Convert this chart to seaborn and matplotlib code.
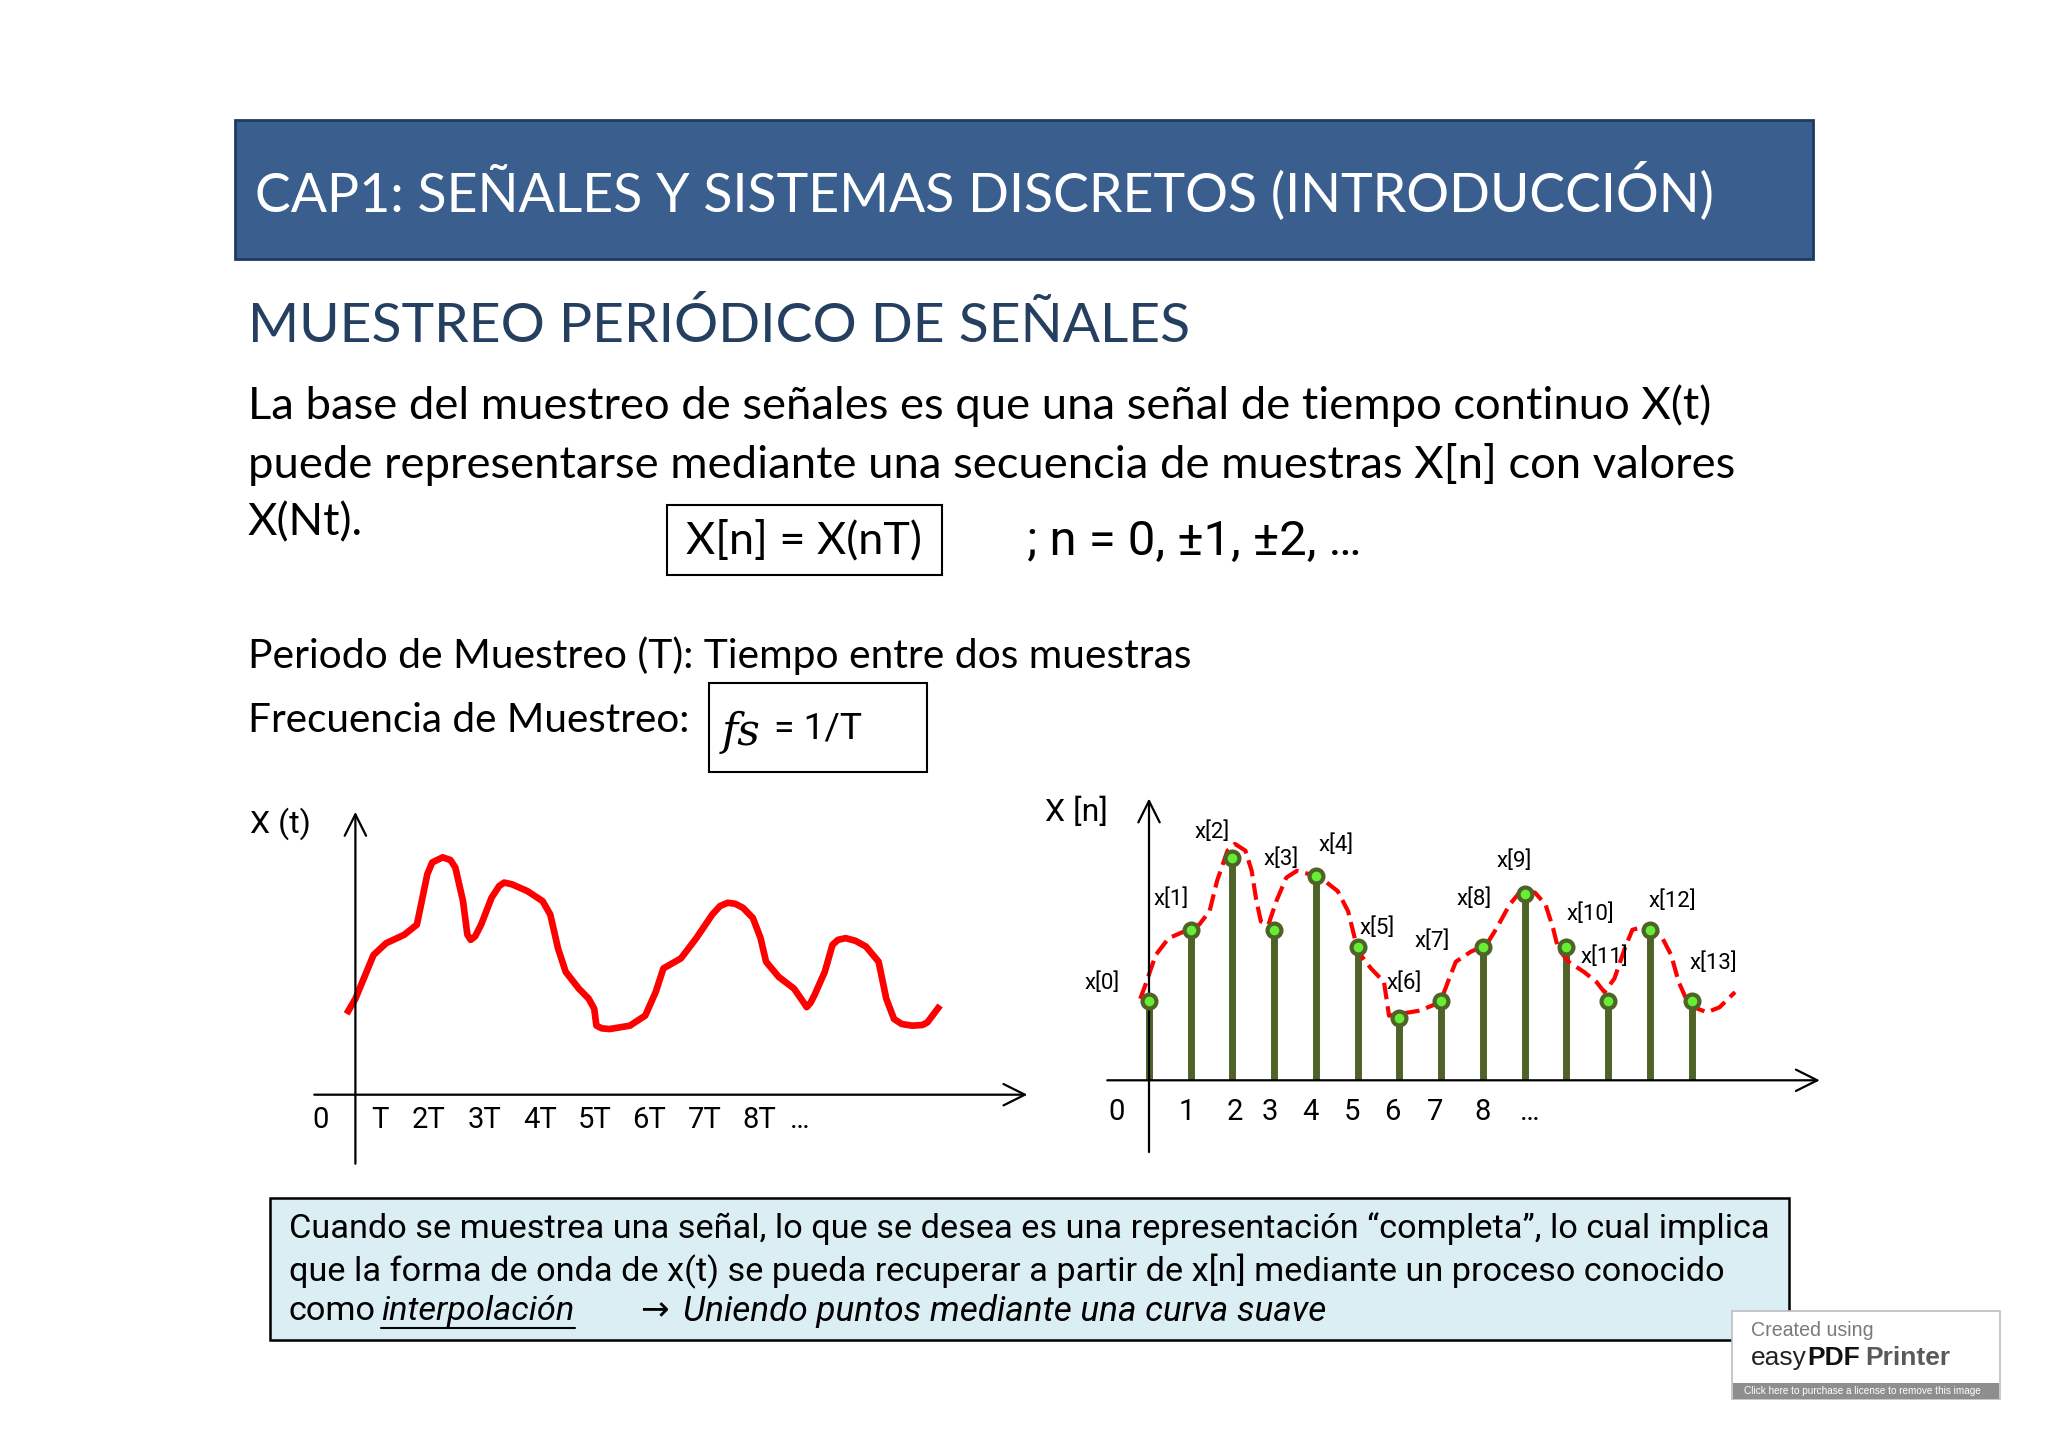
import matplotlib
matplotlib.use("Agg")
import matplotlib.pyplot as plt
from matplotlib.patches import Rectangle
import seaborn as sns

# ---- data ---------------------------------------------------------------
# continuous signal X(t), t measured in units of the tick spacing
t_cont = [-0.16, 0.0, 0.33, 0.56, 0.89, 1.12, 1.31, 1.40, 1.59, 1.73, 1.82, 1.96,
          2.04, 2.10, 2.18, 2.29, 2.48, 2.62, 2.71, 2.85, 3.13, 3.41, 3.55, 3.69,
          3.83, 4.07, 4.25, 4.35, 4.39, 4.49, 4.63, 5.00, 5.28, 5.47, 5.61, 5.93,
          6.21, 6.50, 6.64, 6.78, 6.92, 7.06, 7.24, 7.38, 7.48, 7.71, 7.99, 8.16,
          8.22, 8.29, 8.36, 8.55, 8.69, 8.79, 8.93, 9.11, 9.30, 9.53, 9.67, 9.81,
          9.95, 10.14, 10.33, 10.42, 10.65]
x_cont = [2.40, 2.85, 4.15, 4.50, 4.75, 5.05, 6.55, 6.90, 7.05, 6.97, 6.75, 5.75,
          4.75, 4.60, 4.70, 5.05, 5.85, 6.20, 6.30, 6.25, 6.05, 5.75, 5.35, 4.35,
          3.65, 3.15, 2.85, 2.55, 2.05, 1.97, 1.95, 2.05, 2.35, 3.05, 3.75, 4.05,
          4.65, 5.35, 5.60, 5.70, 5.67, 5.55, 5.25, 4.65, 3.95, 3.50, 3.15, 2.75,
          2.60, 2.73, 2.95, 3.65, 4.45, 4.60, 4.65, 4.57, 4.40, 3.95, 2.85, 2.25,
          2.10, 2.05, 2.07, 2.15, 2.65]
t_tick_labels = ["0", "T", "2T", "3T", "4T", "5T", "6T", "7T", "8T", "…"]
t_tick_pos = [-0.63, 0.44, 1.34, 2.36, 3.36, 4.35, 5.35, 6.36, 7.36, 8.10]

# discrete samples x[n]
n_samples = list(range(14))
x_samples = [2.37, 4.45, 6.60, 4.47, 6.07, 3.95, 1.85, 2.37, 3.95, 5.54, 3.97,
             2.37, 4.47, 2.37]
sample_names = ["x[%d]" % k for k in n_samples]

# dashed interpolating curve through the samples
n_interp = [-0.21, -0.09, 0.16, 0.47, 0.84, 1.20, 1.45, 1.63, 1.88, 2.06, 2.31,
            2.46, 2.56, 2.68, 2.86, 3.05, 3.29, 3.54, 3.85, 4.21, 4.52, 4.77,
            4.89, 5.01, 5.32, 5.63, 5.69, 5.75, 6.00, 6.49, 6.98, 7.16, 7.35,
            7.71, 8.08, 8.33, 8.64, 8.94, 9.25, 9.50, 9.68, 9.80, 10.05, 10.42,
            10.72, 10.91, 11.15, 11.40, 11.58, 11.89, 12.26, 12.51, 12.69, 12.94,
            13.37, 13.67, 14.04]
x_interp = [2.42, 2.82, 3.72, 4.22, 4.42, 4.62, 5.02, 5.92, 6.82, 7.02, 6.82,
            6.22, 5.42, 4.72, 4.62, 5.32, 6.02, 6.22, 6.12, 5.92, 5.62, 5.02,
            4.42, 3.82, 3.32, 2.92, 2.42, 1.92, 1.97, 2.07, 2.32, 2.92, 3.52,
            3.82, 4.02, 4.52, 5.22, 5.67, 5.57, 5.22, 4.52, 3.92, 3.52, 3.22,
            2.92, 2.62, 3.02, 3.92, 4.47, 4.57, 4.32, 3.72, 2.92, 2.22, 2.02,
            2.17, 2.62]
n_tick_labels = ["0", "1", "2", "3", "4", "5", "6", "7", "8", "…"]
n_tick_pos = [-0.78, 0.90, 2.06, 2.89, 3.87, 4.86, 5.84, 6.86, 8.00, 9.13]

# label offsets (layout only) for the x[k] annotations
name_dx = [-1.13, -0.47, -0.49, 0.17, 0.48, 0.47, 0.12, -0.21, -0.22, -0.24,
           0.57, -0.09, 0.54, 0.53]
name_dy = [0.50, 0.92, 0.77, 2.10, 0.90, 0.57, 1.02, 1.75, 1.42, 0.98, 0.95,
           1.30, 0.85, 1.10]

# ---- styling ------------------------------------------------------------
sns.set_theme(style="white")
SLIDE = ["Lato", "Liberation Sans", "DejaVu Sans"]
ARIAL = ["Roboto", "Liberation Sans", "DejaVu Sans"]
plt.rcParams["font.family"] = ARIAL

W, H = 2048, 1448
RED = "#FF0000"
OLIVE = "#4F6228"
LIME = "#66EE33"

fig = plt.figure(figsize=(W / 100, H / 100), dpi=100)
fig.patch.set_facecolor("white")
renderer = fig.canvas.get_renderer()


def px_rect(x0, y0, x1, y1, **kw):
    r = Rectangle((x0 / W, 1 - y1 / H), (x1 - x0) / W, (y1 - y0) / H,
                  transform=fig.transFigure, **kw)
    fig.patches.append(r)
    return r


def px_text(x, y, s, width=None, **kw):
    kw.setdefault("va", "center")
    kw.setdefault("ha", "left")
    txt = fig.text(x / W, 1 - y / H, s, **kw)
    if width is not None:
        w = txt.get_window_extent(renderer).width
        txt.set_fontsize(txt.get_fontsize() * width / w)
    return txt


def place_axes(x0, y0, sx, sy, xlim, ylim):
    left = x0 + sx * xlim[0]
    right = x0 + sx * xlim[1]
    top = y0 - sy * ylim[1]
    bottom = y0 - sy * ylim[0]
    ax = fig.add_axes([left / W, 1 - bottom / H, (right - left) / W, (bottom - top) / H])
    ax.set_xlim(*xlim)
    ax.set_ylim(*ylim)
    ax.axis("off")
    return ax


def arrow(ax, start, end):
    ax.annotate("", xy=end, xytext=start,
                arrowprops=dict(arrowstyle="->,head_length=0.7,head_width=0.35",
                                lw=1.6, color="black", mutation_scale=22,
                                shrinkA=0, shrinkB=0))


# ---- header -------------------------------------------------------------
px_rect(235, 120, 1813, 259, facecolor="#3A5F8F", edgecolor="#1E3A62", lw=2)
px_text(255, 191, "CAP1: SEÑALES Y SISTEMAS DISCRETOS (INTRODUCCIÓN)",
        width=1460, color="white", fontsize=40, family=SLIDE)
px_text(248, 326, "MUESTREO PERIÓDICO DE SEÑALES", width=944,
        color="#243F60", fontsize=40, family=SLIDE)

body = px_text(248, 406, "La base del muestreo de señales es que una señal de tiempo continuo X(t)",
               width=1460, color="black", fontsize=24, family=SLIDE)
fs_body = body.get_fontsize()
px_text(248, 465, "puede representarse mediante una secuencia de muestras X[n] con valores",
        color="black", fontsize=fs_body, family=SLIDE)
px_text(248, 523, "X(Nt).", color="black", fontsize=fs_body, family=SLIDE)

px_rect(667, 505, 942, 575, facecolor="none", edgecolor="black", lw=1.5)
px_text(804, 541, "X[n] = X(nT)", width=236, ha="center", color="black", fontsize=24,
        family=SLIDE)
px_text(1027, 542, "; n = 0, ±1, ±2, …", width=335, color="black", fontsize=24)

px_text(248, 656, "Periodo de Muestreo (T): Tiempo entre dos muestras", width=942,
        color="black", fontsize=22, family=SLIDE)
px_text(248, 720, "Frecuencia de Muestreo:", width=440, color="black", fontsize=22,
        family=SLIDE)
px_rect(709, 683, 927, 772, facecolor="none", edgecolor="black", lw=1.5)
px_text(722, 732, "fs", width=39, color="black", fontsize=24,
        family=["DejaVu Serif"], style="italic")
px_text(774, 728, "= 1/T", width=88, color="black", fontsize=22)

# ---- left chart: continuous signal -------------------------------------
ax_l = place_axes(355.4, 1094.7, 54.9, 33.67, (-1.5, 12.5), (-2.5, 8.8))
sns.lineplot(x=t_cont, y=x_cont, sort=False, color=RED, lw=4.8, ax=ax_l,
             solid_joinstyle="round", solid_capstyle="butt")
arrow(ax_l, (0, -2.05), (0, 8.4))
arrow(ax_l, (-0.75, 0), (12.24, 0))
for pos, lab in zip(t_tick_pos, t_tick_labels):
    ax_l.text(pos, -0.75, lab, ha="center", va="center", fontsize=21, color="black")
ax_l.text(-1.37, 8.05, "X (t)", ha="center", va="center", fontsize=23, color="black")

# ---- right chart: sampled signal ---------------------------------------
ax_r = place_axes(1149, 1080.3, 41.74, 33.67, (-2.5, 16.5), (-2.5, 8.8))
ax_r.vlines(n_samples, 0, x_samples, color=OLIVE, lw=5, zorder=2)
sns.lineplot(x=n_interp, y=x_interp, sort=False, color=RED, lw=3,
             linestyle=(0, (4, 1.7)), ax=ax_r, zorder=3)
sns.scatterplot(x=n_samples, y=x_samples, s=100, color=LIME, edgecolor=OLIVE,
                linewidth=3, ax=ax_r, zorder=4)
arrow(ax_r, (0, -2.13), (0, 8.37))
arrow(ax_r, (-1.0, 0), (16.07, 0))
for n, v, name, dx, dy in zip(n_samples, x_samples, sample_names, name_dx, name_dy):
    ax_r.text(n + dx, v + dy, name, ha="center", va="center", fontsize=16, color="black")
for pos, lab in zip(n_tick_pos, n_tick_labels):
    ax_r.text(pos, -0.93, lab, ha="center", va="center", fontsize=21, color="black")
ax_r.text(-1.74, 7.97, "X [n]", ha="center", va="center", fontsize=23, color="black")

# ---- bottom note --------------------------------------------------------
px_rect(270, 1198, 1789, 1340, facecolor="#DBEEF4", edgecolor="black", lw=1.8)
note = px_text(289, 1229, "Cuando se muestrea una señal, lo que se desea es una representación "
               "“completa”, lo cual implica", width=1477, color="black", fontsize=22)
fs_note = note.get_fontsize()
px_text(289, 1271, "que la forma de onda de x(t) se pueda recuperar a partir de x[n] mediante "
        "un proceso conocido", color="black", fontsize=fs_note)
px_text(289, 1311, "como", color="black", fontsize=fs_note)
px_text(381, 1311, "interpolación", width=194, color="black", fontsize=fs_note, style="italic")
fig.add_artist(plt.Line2D([381 / W, 575 / W], [1 - 1328 / H, 1 - 1328 / H],
                          transform=fig.transFigure, color="black", lw=1.5))
px_text(640, 1311, "→", color="black", fontsize=fs_note, family=["DejaVu Sans"])
px_text(683, 1311, "Uniendo puntos mediante una curva suave", width=644,
        color="black", fontsize=fs_note, style="italic")

# ---- watermark ----------------------------------------------------------
px_rect(1732, 1311, 2000, 1399, facecolor="white", edgecolor="#BDBDBD", lw=1.2)
px_rect(1733, 1383, 1999, 1399, facecolor="#8E8E8E", edgecolor="none")
px_text(1751, 1331, "Created using", width=122, color="#7A7A7A", fontsize=11,
        family=["Liberation Sans", "DejaVu Sans"])
easy = px_text(1751, 1358, "easy", color="#222222", fontsize=19,
               family=["Liberation Sans", "DejaVu Sans"])
x_pdf = 1751 + easy.get_window_extent(renderer).width
pdf = px_text(x_pdf, 1358, "PDF", color="#111111", fontsize=19, weight="bold",
              family=["Liberation Sans", "DejaVu Sans"])
x_pr = x_pdf + pdf.get_window_extent(renderer).width + 6
px_text(x_pr, 1358, "Printer", color="#5A5A5A", fontsize=19, weight="bold",
        family=["Liberation Sans", "DejaVu Sans"])
px_text(1744, 1391, "Click here to purchase a license to remove this image", width=240,
        color="white", fontsize=6, family=["Liberation Sans", "DejaVu Sans"])

fig.savefig("out.png", dpi=100)
plt.close(fig)
